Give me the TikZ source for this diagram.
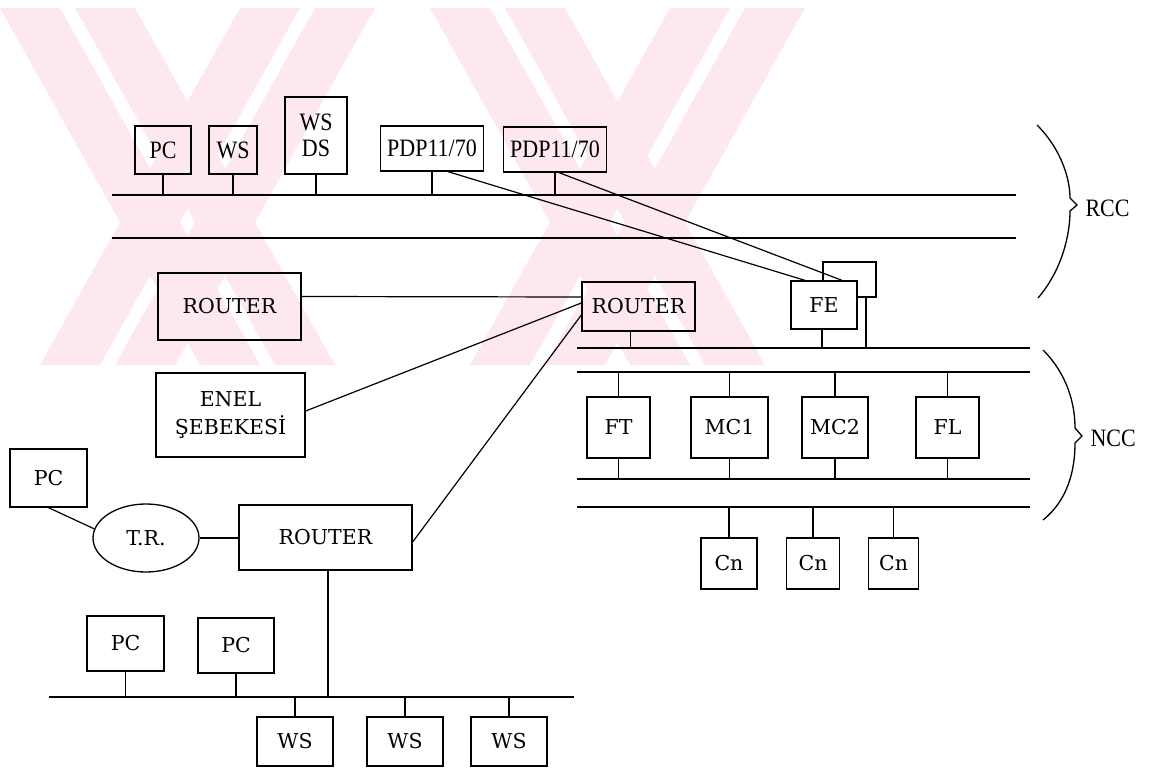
\documentclass[tikz,border=0pt]{standalone}
\usepackage{fontspec}
\setmainfont{DejaVu Serif}
\newfontfamily\tfont[FakeStretch=0.88]{Liberation Serif}
\usetikzlibrary{calc,shapes.geometric}
\definecolor{wm}{RGB}{253,233,237}
\begin{document}
\begin{tikzpicture}[x=1pt,y=-1pt,
 box/.style={draw,line width=1.3pt,inner sep=0pt,font=\fontsize{20.5}{28}\selectfont},
 tbox/.style={box,font=\tfont\fontsize{25}{26}\selectfont},
 bus/.style={line width=2.8pt},
 ln/.style={line width=1.2pt},
 brace/.style={line width=1.3pt},
 lbl/.style={anchor=west,font=\tfont\fontsize{25}{25}\selectfont},
]
\useasboundingbox (0,0) rectangle (1161,775);
% watermark
\begin{scope}
\clip (0,8) rectangle (900,365);
\foreach \a in {0,75,430,505}
  \fill[wm] (\a,8) -- (\a+60,8) -- (\a+260,365) -- (\a+200,365) -- cycle;
\foreach \a in {240,315,670,745}
  \fill[wm] (\a,8) -- (\a+60,8) -- (\a-140,365) -- (\a-200,365) -- cycle;
\end{scope}

% ---------- RCC ----------
\coordinate (b1s) at (112,195); \coordinate (b1e) at (1016,195);
\coordinate (b2s) at (112,238); \coordinate (b2e) at (1016,238);
\draw[bus] (b1s) -- (b1e);
\draw[bus] (b2s) -- (b2e);

\node[tbox,minimum width=56pt,minimum height=48pt] (pc1) at (163,150) {PC};
\node[tbox,minimum width=48pt,minimum height=48pt] (ws1) at (233,150) {WS};
\node[tbox,minimum width=62pt,minimum height=77pt,align=center] (wsds) at (316,135.5) {WS\\DS};
\node[tbox,minimum width=103pt,minimum height=45pt] (pdp1) at (432,148.5) {PDP11/70};
\node[tbox,minimum width=103pt,minimum height=45pt] (pdp2) at (555,149.5) {PDP11/70};
\foreach \n in {pc1,ws1,wsds,pdp1,pdp2}
  \draw[ln] (\n.south) -- (\n.south |- b1s);

\node[box,minimum width=143pt,minimum height=67pt] (routerL) at (229.5,306.5) {ROUTER};
\node[box,minimum width=113pt,minimum height=49pt] (routerM) at (638.5,306.5) {ROUTER};
\node[box,minimum width=149pt,minimum height=84pt,align=center] (enel) at (230.5,415) {ENEL\\ŞEBEKESİ};

% FE with the box behind it
\coordinate (fb1) at (823,281); \coordinate (fb2) at (823,262);
\coordinate (fb3) at (876,262); \coordinate (fb4) at (876,297);
\coordinate (fb5) at (857,297); \coordinate (fb6) at (866,297);
\draw[line width=1.3pt] (fb1) -- (fb2) -- (fb3) -- (fb4) -- (fb5);
\node[box,minimum width=66pt,minimum height=48pt] (fe) at (824,305) {FE};

\draw[ln] ([yshift=10pt]routerL.east) -- ([yshift=9.5pt]routerM.west);
\draw[ln] ([yshift=4pt]enel.east) -- ([yshift=3.5pt]routerM.west);
\draw[ln] ([xshift=16pt]pdp1.south) -- ([xshift=-19pt]fe.north);
\draw[ln] ([xshift=4pt]pdp2.south) -- ([xshift=18pt]fe.north);

\draw[brace] (1037,125) .. controls (1062,150) and (1070,180) .. (1070,198)
  -- (1077,205) -- (1070,211) .. controls (1070,235) and (1062,270) .. (1038,298);
\node[lbl] (rcc) at (1082,208) {RCC};

% ---------- NCC ----------
\coordinate (b3s) at (577,348); \coordinate (b3e) at (1030,348);
\coordinate (b4s) at (577,372); \coordinate (b4e) at (1030,372);
\coordinate (b5s) at (577,479); \coordinate (b5e) at (1030,479);
\coordinate (b6s) at (577,507); \coordinate (b6e) at (1030,507);
\foreach \s/\e in {b3s/b3e,b4s/b4e,b5s/b5e,b6s/b6e}
  \draw[bus] (\s) -- (\e);

\draw[ln] ([xshift=-8pt]routerM.south) -- ([xshift=-8pt]routerM.south |- b3s);
\draw[ln] ([xshift=-2pt]fe.south) -- ([xshift=-2pt]fe.south |- b3s);
\draw[ln] (fb6) -- (fb6 |- b3s);

\node[box,minimum width=63pt,minimum height=61pt] (ft) at (618.5,427.5) {FT};
\node[box,minimum width=77pt,minimum height=61pt] (mc1) at (729.5,427.5) {MC1};
\node[box,minimum width=66pt,minimum height=61pt] (mc2) at (835,427.5) {MC2};
\node[box,minimum width=63pt,minimum height=61pt] (fl) at (947.5,427.5) {FL};
\foreach \n in {ft,mc1,mc2,fl}{
  \draw[ln] (\n.north) -- (\n.north |- b4s);
  \draw[ln] (\n.south) -- (\n.south |- b5s);
}
\node[box,minimum width=56pt,minimum height=51pt] (cn1) at (729,563.5) {Cn};
\node[box,minimum width=53pt,minimum height=51pt] (cn2) at (813,563.5) {Cn};
\node[box,minimum width=50pt,minimum height=51pt] (cn3) at (893.5,563.5) {Cn};
\foreach \n in {cn1,cn2,cn3}
  \draw[ln] (\n.north) -- (\n.north |- b6s);

\draw[brace] (1043,350) .. controls (1068,375) and (1075,405) .. (1075,428)
  -- (1082,436) -- (1075,443) .. controls (1075,470) and (1068,500) .. (1043,520);
\node[lbl] (ncc) at (1087,438) {NCC};

% ---------- lower left ----------
\node[box,minimum width=77pt,minimum height=58pt] (pc2) at (48.5,478) {PC};
\node[draw,line width=1.3pt,ellipse,minimum width=106pt,minimum height=68pt,inner sep=0pt,font=\fontsize{20.5}{24}\selectfont] (tr) at (146,538) {T.R.};
\node[box,minimum width=173pt,minimum height=65pt] (routerB) at (325.5,537.5) {ROUTER};
\draw[ln] (pc2.south) -- (tr.170);
\draw[ln] (tr.east) -- (routerB.west |- tr.east);
\draw[ln] ([yshift=-4.5pt]routerB.east) -- ([yshift=-8.5pt]routerM.west);

\coordinate (b7s) at (49,697); \coordinate (b7e) at (574,697);
\draw[bus] (b7s) -- (b7e);
\draw[ln] ([xshift=2.5pt]routerB.south) -- ([xshift=2.5pt]routerB.south |- b7s);

\node[box,minimum width=77pt,minimum height=55pt] (pcA) at (125.5,643.5) {PC};
\node[box,minimum width=76pt,minimum height=55pt] (pcB) at (236,645.5) {PC};
\foreach \n in {pcA,pcB}
  \draw[ln] (\n.south) -- (\n.south |- b7s);
\node[box,minimum width=76pt,minimum height=49pt] (wsA) at (295,741.5) {WS};
\node[box,minimum width=76pt,minimum height=49pt] (wsB) at (405,741.5) {WS};
\node[box,minimum width=76pt,minimum height=49pt] (wsC) at (509,741.5) {WS};
\foreach \n in {wsA,wsB,wsC}
  \draw[ln] (\n.north) -- (\n.north |- b7s);
\end{tikzpicture}
\end{document}
